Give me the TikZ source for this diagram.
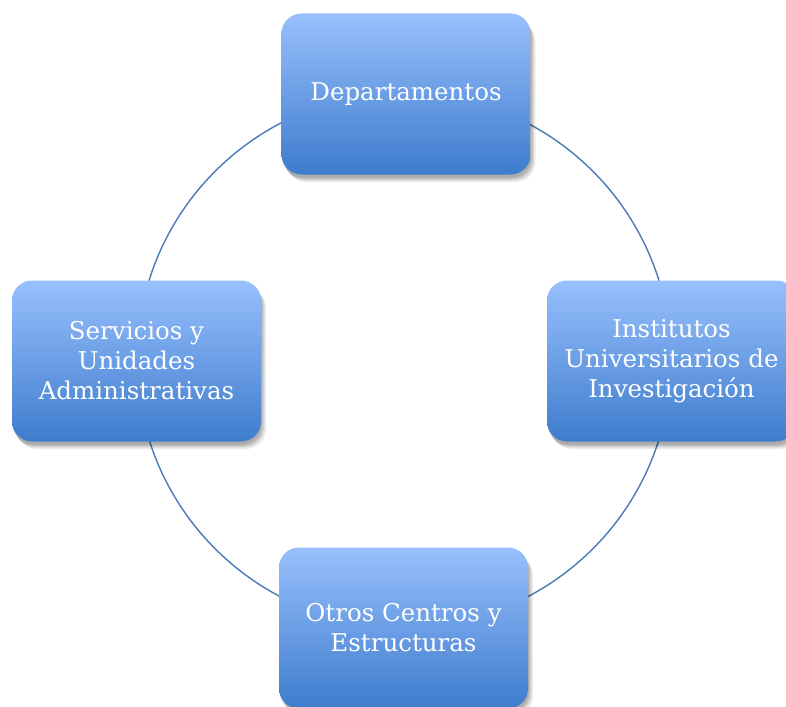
\documentclass[tikz,border=0pt]{standalone}
\usepackage{fontspec}
\setmainfont{DejaVu Serif}
\definecolor{boxtop}{RGB}{152,192,253}
\definecolor{boxmid}{RGB}{120,166,236}
\definecolor{boxbot}{RGB}{62,124,205}
\definecolor{ring}{RGB}{74,122,184}
\tikzset{
  shadowlayer/.style={preaction={fill=black, opacity=0.075, transform canvas={xshift=#1, yshift=-#1-2.5pt}}},
  unit/.style={rounded corners=20pt, minimum width=249pt, minimum height=161pt,
    inner sep=0pt, top color=boxtop, middle color=boxmid, bottom color=boxbot, text=white, align=center,
    font=\fontsize{24.5}{30}\selectfont,
    shadowlayer=0.5pt, shadowlayer=1.5pt, shadowlayer=2.5pt, shadowlayer=3.5pt, shadowlayer=5pt},
  ringline/.style={draw=ring, line width=1.4pt}
}
\begin{document}
\begin{tikzpicture}[x=1pt,y=-1pt]
\useasboundingbox (0,0) rectangle (786,706);
\fill[white] (0,0) rectangle (786,706);
\coordinate (c) at (404,360);
\draw[ringline] (c) circle (267pt);
\node[unit] (dep) at (406,94) {Departamentos};
\node[unit] (inst) at (671.5,361) {Institutos\\Universitarios de\\Investigación};
\node[unit] (otros) at (403.5,628) {Otros Centros y\\Estructuras};
\node[unit] (serv) at (136.5,361) {Servicios y\\Unidades\\Administrativas};
\end{tikzpicture}
\end{document}
